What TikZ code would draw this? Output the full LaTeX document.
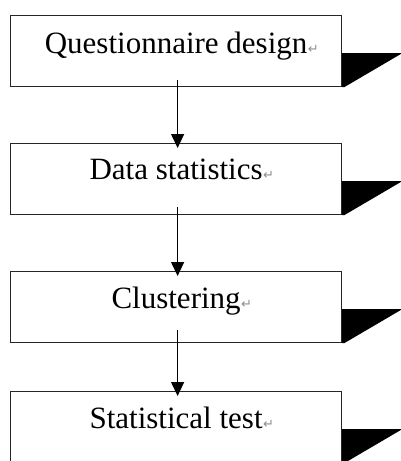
\documentclass[tikz,border=0pt]{standalone}
\usepackage{fontspec}
\setmainfont{Liberation Serif}
\newfontfamily\markfont{DejaVu Sans}
\usetikzlibrary{arrows.meta}
\tikzset{
  x=1pt, y=1pt,
  stepbox/.style={draw=black!85, line width=1.2pt, rectangle, minimum width=331pt, minimum height=71pt, inner sep=0pt, anchor=north west},
  steptext/.style={anchor=base, inner sep=0pt, font=\fontsize{31}{33}\selectfont},
  wedge/.style={fill=black, draw=none},
  arr/.style={line width=1.3pt, -{Triangle[length=14pt, width=13pt]}},
}
\newcommand{\pmark}{\rlap{\hspace{0.5pt}\markfont\fontsize{13}{13}\selectfont\color{black!45}↵}}
\begin{document}
\begin{tikzpicture}
\useasboundingbox (0,0) rectangle (401,-461);
\node[stepbox] (b1) at (10,-15) {};
\node[stepbox] (b2) at (10,-143) {};
\node[stepbox] (b3) at (10,-271) {};
\node[stepbox] (b4) at (10,-391) {};
\node[steptext] (t1) at ([yshift=-38pt]b1.north) {Questionnaire design\pmark};
\node[steptext] (t2) at ([yshift=-36pt]b2.north) {Data statistics\pmark};
\node[steptext] (t3) at ([yshift=-37pt]b3.north) {Clustering\pmark};
\node[steptext] (t4) at ([yshift=-37pt]b4.north) {Statistical test\pmark};
\foreach \b in {b1,b2,b3,b4}{
  \fill[wedge] ([yshift=34pt]\b.south east) -- ++(60,0) -- ([xshift=2pt]\b.south east) -- (\b.south east) -- cycle;
}
\draw[arr] ([xshift=1.5pt,yshift=7pt]b1.south) -- ([xshift=1.5pt,yshift=-5pt]b2.north);
\draw[arr] ([xshift=1.5pt,yshift=8pt]b2.south) -- ([xshift=1.5pt,yshift=-5pt]b3.north);
\draw[arr] ([xshift=1.5pt,yshift=13pt]b3.south) -- ([xshift=1.5pt,yshift=-5pt]b4.north);
\end{tikzpicture}
\end{document}
